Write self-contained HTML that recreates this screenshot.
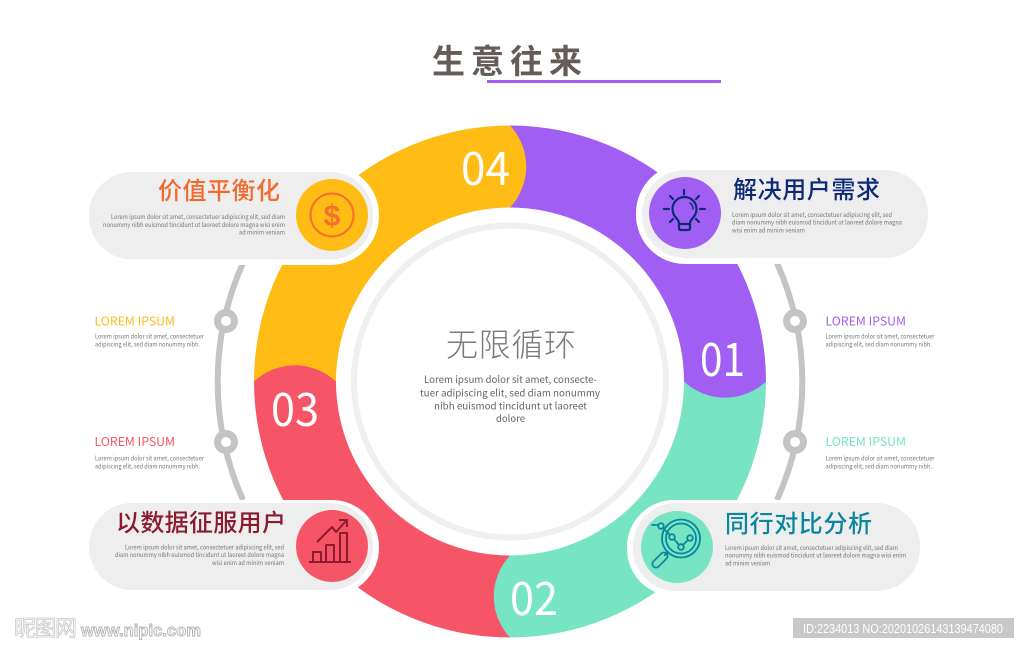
<!DOCTYPE html>
<html><head><meta charset="utf-8"><style>
html,body{margin:0;padding:0;background:#fff;width:1024px;height:648px;overflow:hidden}
svg{display:block}
text{font-family:"Noto Sans CJK SC","Liberation Sans",sans-serif}
.lib{font-family:"Liberation Sans","Noto Sans CJK SC",sans-serif}
.s{font-size:6.5px;fill:#767676}
.h{font-size:12px;font-weight:400}
.n{font-size:46px;fill:#fff;font-weight:400}
.t{font-size:24px;font-weight:500}
.c{font-size:10px;fill:#666}
</style></head><body>
<svg width="1024" height="648" viewBox="0 0 1024 648" xmlns="http://www.w3.org/2000/svg">
<text x="432" y="73" font-size="33" font-weight="700" fill="#655b58" letter-spacing="6">生意往来</text>
<rect x="487" y="80" width="234" height="3" fill="#a05ff2"/>

<g fill="none" stroke="#c4c4c4" stroke-width="6">
<path d="M243 263A290 290 0 0 0 243 500"/>
<path d="M777 263A290 290 0 0 1 777 500"/>
</g>
<g fill="#c4c4c4">
<circle cx="226" cy="321" r="12"/><circle cx="226" cy="442" r="12"/>
<circle cx="795" cy="321" r="12"/><circle cx="795" cy="442" r="12"/>
</g>
<g fill="#fff">
<circle cx="226" cy="321" r="5"/><circle cx="226" cy="442" r="5"/>
<circle cx="795" cy="321" r="5"/><circle cx="795" cy="442" r="5"/>
</g>

<!-- ring quadrants -->
<path d="M510 125.500A256 256 0 0 1 766 381.500H684A174 174 0 0 0 510 207.500Z" fill="#a05ff2"/>
<path d="M766 381.500A256 256 0 0 1 510 637.500V555.500A174 174 0 0 0 684 381.500Z" fill="#77e4c3"/>
<path d="M510 637.500A256 256 0 0 1 254 381.500H336A174 174 0 0 0 510 555.500Z" fill="#f55566"/>
<path d="M254 381.500A256 256 0 0 1 510 125.500V207.500A174 174 0 0 0 336 381.500Z" fill="#febc15"/>
<!-- bulges -->
<path d="M510 125.500A60 60 0 0 1 510 207.500Z" fill="#febc15"/>
<path d="M766 381.500A60 60 0 0 1 684 381.500Z" fill="#a05ff2"/>
<path d="M510 637.500A60 60 0 0 1 510 555.500Z" fill="#77e4c3"/>
<path d="M254 381.500A60 60 0 0 1 336 381.500Z" fill="#f55566"/>

<circle cx="510" cy="381.500" r="156" fill="#fff" stroke="#efefef" stroke-width="6"/>

<text class="n" x="461" y="185" textLength="49" lengthAdjust="spacingAndGlyphs">04</text>
<text class="n" x="700" y="376" textLength="45" lengthAdjust="spacingAndGlyphs">01</text>
<text class="n" x="510" y="615" textLength="48" lengthAdjust="spacingAndGlyphs">02</text>
<text class="n" x="271" y="426" textLength="48" lengthAdjust="spacingAndGlyphs">03</text>

<!-- pills -->
<g fill="#fff">
<rect x="89" y="166" width="290" height="99" rx="49"/>
<rect x="636" y="164" width="292" height="100" rx="49"/>
<rect x="89" y="500" width="290" height="95" rx="47"/>
<rect x="627" y="500" width="293" height="96" rx="47"/>
</g>
<g fill="#eeeeee">
<rect x="89" y="172" width="284" height="87.500" rx="43"/>
<rect x="642" y="170" width="286" height="88" rx="43"/>
<rect x="89" y="503" width="284" height="87" rx="43"/>
<rect x="633" y="503" width="287" height="88" rx="43"/>
</g>
<circle cx="332" cy="215" r="36" fill="#febc15"/>
<circle cx="685" cy="213" r="36" fill="#a05ff2"/>
<circle cx="332" cy="546" r="36" fill="#f55566"/>
<circle cx="677" cy="547" r="36" fill="#77e4c3"/>

<!-- dollar icon -->
<circle cx="332" cy="215" r="21.500" fill="none" stroke="#f4702e" stroke-width="2"/>
<text class="lib" x="332" y="226" text-anchor="middle" font-size="30" font-weight="700" fill="#f4702e">$</text>

<!-- bulb icon -->
<g fill="none" stroke="#0c2a78" stroke-width="2.200" stroke-linecap="round" stroke-linejoin="round">
<path d="M679 228V223C679 219 672.500 217 672.500 209A12 12 0 0 1 696.500 209C696.500 217 690 219 690 223V228Q690 230 688 230H681Q679 230 679 228Z"/>
<path d="M679 224H690"/>
<path d="M690 203Q693 205 693 209" stroke-width="1.500"/>
<path d="M684 190V194.500M670 196L673 199M699 196L696 199M664 209H669M700 209H705M670 222L673 219M699 222L696 219"/>
</g>

<!-- chart icon -->
<g fill="none" stroke="#8c1a2e" stroke-width="2" stroke-linejoin="round">
<path d="M309 562H351"/>
<path d="M313 562V552H321V562M326 562V545H334V562M340 562V533H347V562"/>
<path d="M317 542L332 527L336 532L346 521"/>
<path d="M339 520H347V527"/>
</g>

<!-- magnifier icon -->
<g fill="none" stroke="#0a879e" stroke-linecap="round">
<path d="M664 556L656 564" stroke-width="9"/>
<path d="M664 556L656 564" stroke="#77e4c3" stroke-width="5.500"/>
<path d="M668 552L665 555" stroke-width="2"/>
<g stroke-width="1.800">
<circle cx="681" cy="538.500" r="19"/>
<circle cx="681" cy="538.500" r="15"/>
<path d="M652 525H658M663 528L670 535M674 539L679 545M683 545L688 540"/>
<circle cx="661" cy="526" r="2.800"/><circle cx="672" cy="537" r="2.800"/>
<circle cx="681" cy="547" r="2.800"/><circle cx="690" cy="538" r="2.800"/>
</g>
</g>

<!-- pill titles -->
<text class="t" x="158" y="199" textLength="122" fill="#f4692c">价值平衡化</text>
<text class="t" x="733" y="198" textLength="147" fill="#0c2a78">解决用户需求</text>
<text class="t" x="116" y="531" textLength="170" fill="#8c1a2e">以数据征服用户</text>
<text class="t" x="725" y="532" textLength="147" fill="#0a879e">同行对比分析</text>

<!-- pill small text -->
<text class="s" x="111" y="219" textLength="174" lengthAdjust="spacingAndGlyphs">Lorem ipsum dolor sit amet, consectetuer adipiscing elit, sed diam</text>
<text class="s" x="103" y="227" textLength="182" lengthAdjust="spacingAndGlyphs">nonummy nibh euismod tincidunt ut laoreet dolore magna wisi enim</text>
<text class="s" x="239" y="234.500" textLength="46" lengthAdjust="spacingAndGlyphs">ad minim veniam</text>

<text class="s" x="732" y="217" textLength="160" lengthAdjust="spacingAndGlyphs">Lorem ipsum dolor sit amet, consectetuer adipiscing elit, sed</text>
<text class="s" x="732" y="224.500" textLength="170" lengthAdjust="spacingAndGlyphs">diam nonummy nibh euismod tincidunt ut laoreet dolore magna</text>
<text class="s" x="732" y="232.500" textLength="73" lengthAdjust="spacingAndGlyphs">wisi enim ad minim veniam</text>

<text class="s" x="125" y="549.500" textLength="159" lengthAdjust="spacingAndGlyphs">Lorem ipsum dolor sit amet, consectetuer adipiscing elit, sed</text>
<text class="s" x="115" y="557" textLength="169" lengthAdjust="spacingAndGlyphs">diam nonummy nibh euismod tincidunt ut laoreet dolore magna</text>
<text class="s" x="212" y="565" textLength="72" lengthAdjust="spacingAndGlyphs">wisi enim ad minim veniam</text>

<text class="s" x="725" y="550" textLength="173" lengthAdjust="spacingAndGlyphs">Lorem ipsum dolor sit amet, consectetuer adipiscing elit, sed diam</text>
<text class="s" x="725" y="557.500" textLength="181" lengthAdjust="spacingAndGlyphs">nonummy nibh euismod tincidunt ut laoreet dolore magna wisi enim</text>
<text class="s" x="725" y="565.500" textLength="45" lengthAdjust="spacingAndGlyphs">ad minim veniam</text>

<!-- side labels -->
<text class="h" x="94.500" y="325.500" textLength="80.500" lengthAdjust="spacingAndGlyphs" fill="#febc15">LOREM IPSUM</text>
<text class="s" x="95" y="338.500" textLength="109" lengthAdjust="spacingAndGlyphs">Lorem ipsum dolor sit amet, consectetuer</text>
<text class="s" x="95" y="346.500" textLength="105" lengthAdjust="spacingAndGlyphs">adipiscing elit, sed diam nonummy nibh.</text>

<text class="h" x="94.500" y="446" textLength="80.500" lengthAdjust="spacingAndGlyphs" fill="#f55566">LOREM IPSUM</text>
<text class="s" x="95" y="460.500" textLength="109" lengthAdjust="spacingAndGlyphs">Lorem ipsum dolor sit amet, consectetuer</text>
<text class="s" x="95" y="468.500" textLength="105" lengthAdjust="spacingAndGlyphs">adipiscing elit, sed diam nonummy nibh.</text>

<text class="h" x="825.500" y="325.500" textLength="80.500" lengthAdjust="spacingAndGlyphs" fill="#a05ff2">LOREM IPSUM</text>
<text class="s" x="825.500" y="338.500" textLength="109" lengthAdjust="spacingAndGlyphs">Lorem ipsum dolor sit amet, consectetuer</text>
<text class="s" x="825.500" y="346.500" textLength="106.500" lengthAdjust="spacingAndGlyphs">adipiscing elit, sed diam nonummy nibh.</text>

<text class="h" x="825.500" y="446" textLength="80.500" lengthAdjust="spacingAndGlyphs" fill="#77e4c3">LOREM IPSUM</text>
<text class="s" x="825.500" y="460.500" textLength="109" lengthAdjust="spacingAndGlyphs">Lorem ipsum dolor sit amet, consectetuer</text>
<text class="s" x="825.500" y="468.500" textLength="106.500" lengthAdjust="spacingAndGlyphs">adipiscing elit, sed diam nonummy nibh.</text>

<!-- centre -->
<text x="446" y="356" font-size="32" font-weight="300" fill="#7a7a7a" textLength="130">无限循环</text>
<text class="c" x="424" y="383" textLength="173" lengthAdjust="spacingAndGlyphs">Lorem ipsum dolor sit amet, consecte-</text>
<text class="c" x="420" y="396.500" textLength="180" lengthAdjust="spacingAndGlyphs">tuer adipiscing elit, sed diam nonummy</text>
<text class="c" x="434" y="409.500" textLength="153" lengthAdjust="spacingAndGlyphs">nibh euismod tincidunt ut laoreet</text>
<text class="c" x="496" y="422" textLength="29" lengthAdjust="spacingAndGlyphs">dolore</text>

<!-- watermarks -->
<text x="14" y="636" font-size="22" fill="#fff" stroke="#c9c9c9" stroke-width="0.800" textLength="63">昵图网</text>
<text class="lib" x="81" y="636" font-size="17" font-weight="700" fill="#fff" stroke="#b0b0b0" stroke-width="0.900" textLength="120" lengthAdjust="spacingAndGlyphs">www.nipic.com</text>
<rect x="793" y="618" width="221" height="20" fill="#c8c8c8"/>
<text class="lib" x="803" y="633" font-size="12.500" fill="#fff" textLength="200" lengthAdjust="spacingAndGlyphs">ID:2234013 NO:20201026143139474080</text>
</svg>
</body></html>
